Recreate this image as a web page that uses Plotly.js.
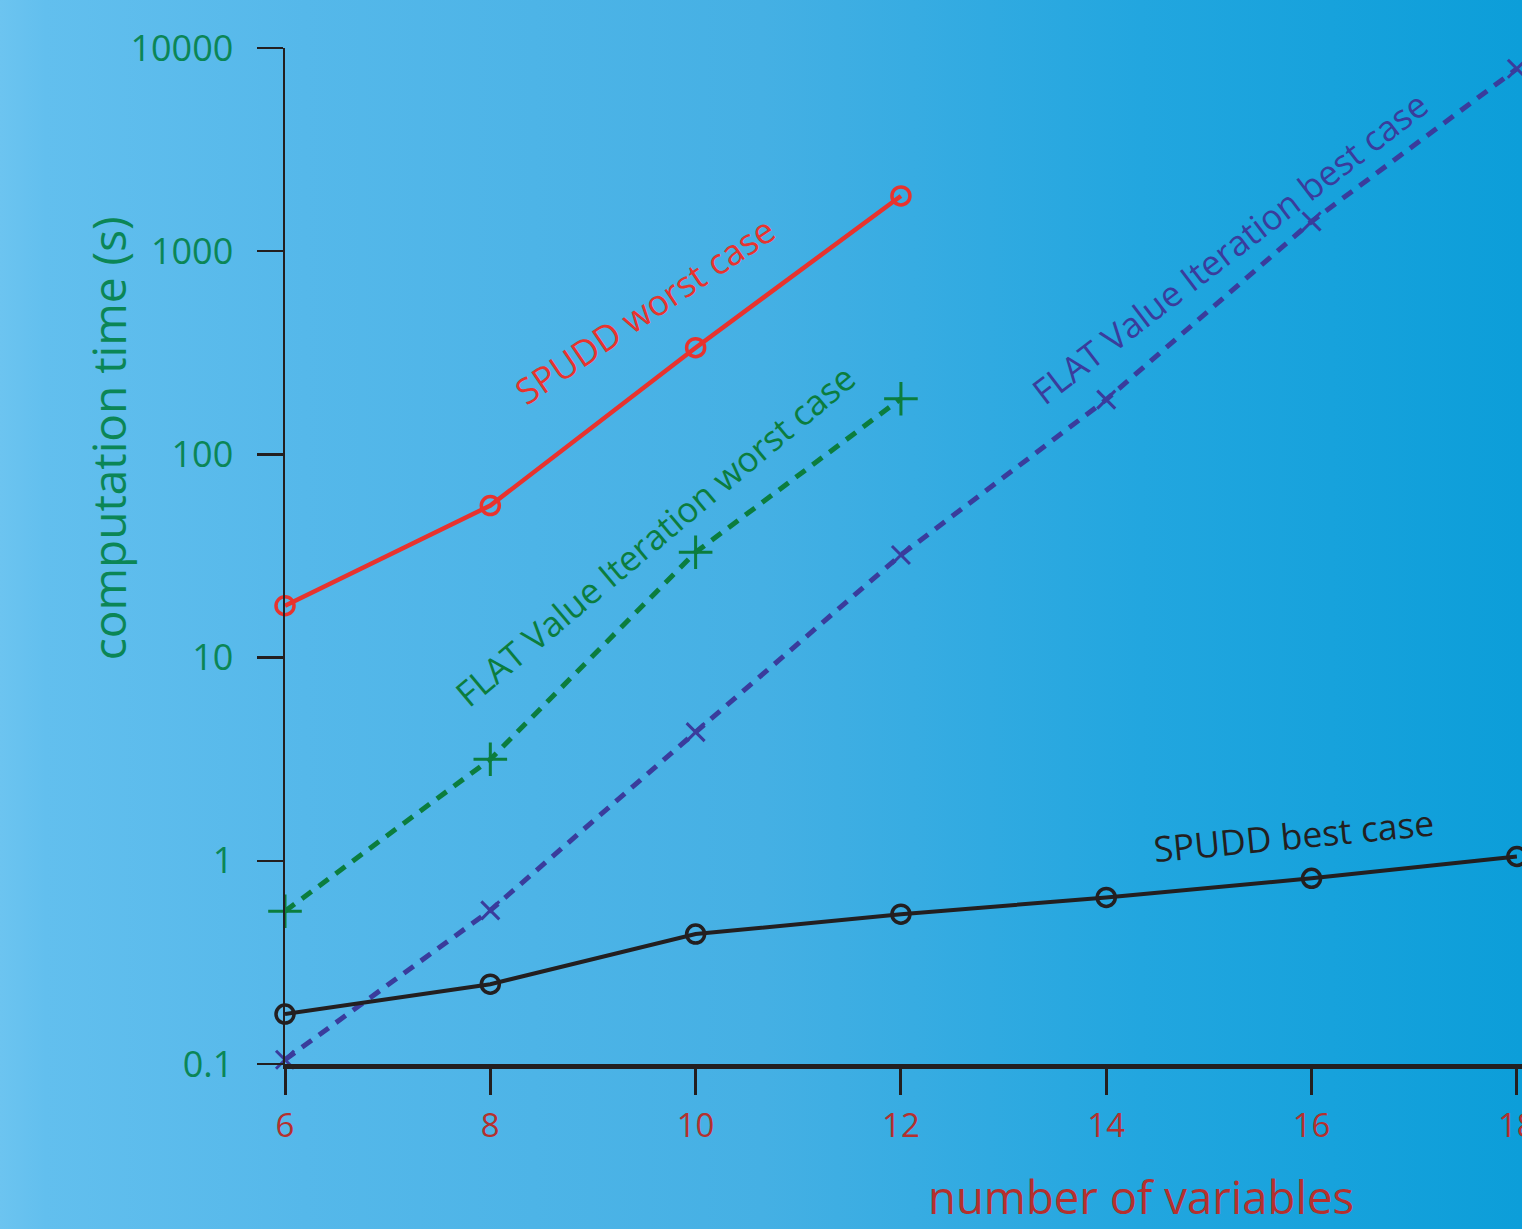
<!DOCTYPE html>
<html>
<head>
<meta charset="utf-8">
<script src="https://cdn.plot.ly/plotly-3.0.1.min.js"></script>
<style>
  html, body { margin:0; padding:0; }
  body { width:1522px; height:1229px; overflow:hidden;
    background: linear-gradient(to right, #6cc4f0 0%, #62bfee 3%, #55b8ea 20%, #45b0e4 50%, #22a6df 75%, #0c9ed9 100%); }
  #chart { width:1522px; height:1229px; }
</style>
</head>
<body>
<div id="chart"></div>
<script>
// number of variables
const xSpuddWorst = [6, 8, 10, 12];
const ySpuddWorst = [18, 56, 335, 1870];

const xFlatWorst = [6, 8, 10, 12];
const yFlatWorst = [0.565, 3.16, 33, 188];

const xFlatBest = [6, 8, 10, 12, 14, 16, 18];
const yFlatBest = [0.105, 0.57, 4.3, 32, 186, 1400, 7900];

const xSpuddBest = [6, 8, 10, 12, 14, 16, 18];
const ySpuddBest = [0.176, 0.247, 0.436, 0.546, 0.66, 0.82, 1.05];

const xTicks = [6, 8, 10, 12, 14, 16, 18];
const yTicks = [0.1, 1, 10, 100, 1000, 10000];
const yTickText = ['0.1', '1', '10', '100', '1000', '10000'];

const FONT = 'Open Sans, Noto Sans, sans-serif';

const traces = [
  { x: xSpuddWorst, y: ySpuddWorst, mode: 'lines+markers', name: 'SPUDD worst case',
    line: { color: '#e8332e', width: 4.5 },
    marker: { symbol: 'circle-open', size: 18, color: '#e8332e', line: { width: 3.5, color: '#e8332e' } },
    cliponaxis: false },
  { x: xFlatWorst, y: yFlatWorst, mode: 'lines+markers', name: 'FLAT Value Iteration worst case',
    line: { color: '#0b7d3e', width: 5, dash: '12px,9px' },
    marker: { symbol: 'cross-thin', size: 24, color: '#0b7d3e', line: { width: 3, color: '#0b7d3e' } },
    cliponaxis: false },
  { x: xFlatBest, y: yFlatBest, mode: 'lines+markers', name: 'FLAT Value Iteration best case',
    line: { color: '#3a3c9c', width: 5, dash: '12px,9px' },
    marker: { symbol: 'x-thin', size: 18, color: '#3a3c9c', line: { width: 3, color: '#3a3c9c' } },
    cliponaxis: false },
  { x: xSpuddBest, y: ySpuddBest, mode: 'lines+markers', name: 'SPUDD best case',
    line: { color: '#231f20', width: 4 },
    marker: { symbol: 'circle-open', size: 18, color: '#231f20', line: { width: 3.5, color: '#231f20' } },
    cliponaxis: false }
];

const layout = {
  width: 1522, height: 1229,
  paper_bgcolor: 'rgba(0,0,0,0)',
  plot_bgcolor: 'rgba(0,0,0,0)',
  showlegend: false,
  margin: { l: 285, r: 0, t: 48, b: 165 },
  font: { family: FONT },
  xaxis: {
    range: [6, 18.05], showgrid: false, zeroline: false,
    showline: true, linecolor: '#231f20', linewidth: 5,
    ticks: 'outside', ticklen: 26, tickwidth: 3, tickcolor: '#231f20',
    tickvals: xTicks, ticktext: xTicks.map(String),
    tickfont: { family: FONT, size: 33, color: '#b5302e' },
    ticklabelstandoff: 2,
    ticklabeloverflow: 'allow'
  },
  yaxis: {
    type: 'log', range: [-1, 4], showgrid: false, zeroline: false,
    showline: true, linecolor: '#231f20', linewidth: 2.5,
    ticks: 'outside', ticklen: 26, tickwidth: 2.5, tickcolor: '#231f20',
    tickvals: yTicks, ticktext: yTickText,
    tickfont: { family: FONT, size: 36, color: '#0b8656' },
    ticklabelstandoff: 16
  },
  annotations: [
    { text: 'SPUDD worst case', xref: 'x', yref: 'y', x: 9.5, y: 2.71, showarrow: false,
      textangle: -34, font: { family: FONT, size: 35.5, color: '#e8332e' } },
    { text: 'FLAT Value Iteration worst case', xref: 'x', yref: 'y', x: 9.6, y: 1.6, showarrow: false,
      textangle: -40, font: { family: FONT, size: 35, color: '#0b7d3e' } },
    { text: 'FLAT Value Iteration best case', xref: 'x', yref: 'y', x: 15.2, y: 3.02, showarrow: false,
      textangle: -37.5, font: { family: FONT, size: 35, color: '#3a3c9c' } },
    { text: 'SPUDD best case', xref: 'x', yref: 'y', x: 15.82, y: 0.125, showarrow: false,
      textangle: -5.5, font: { family: FONT, size: 35.5, color: '#231f20' } },
    { text: 'number of variables', xref: 'paper', yref: 'paper', x: 0.692, y: -0.13, showarrow: false,
      xanchor: 'center', yanchor: 'middle', font: { family: FONT, size: 45.5, color: '#b5302e' } },
    { text: 'computation time (s)', xref: 'paper', yref: 'paper', x: -0.143, y: 0.616, showarrow: false,
      textangle: -90, xanchor: 'center', yanchor: 'middle', font: { family: FONT, size: 46, color: '#0b8656' } }
  ]
};

Plotly.newPlot('chart', traces, layout, { staticPlot: true, displayModeBar: false });
</script>
</body>
</html>
